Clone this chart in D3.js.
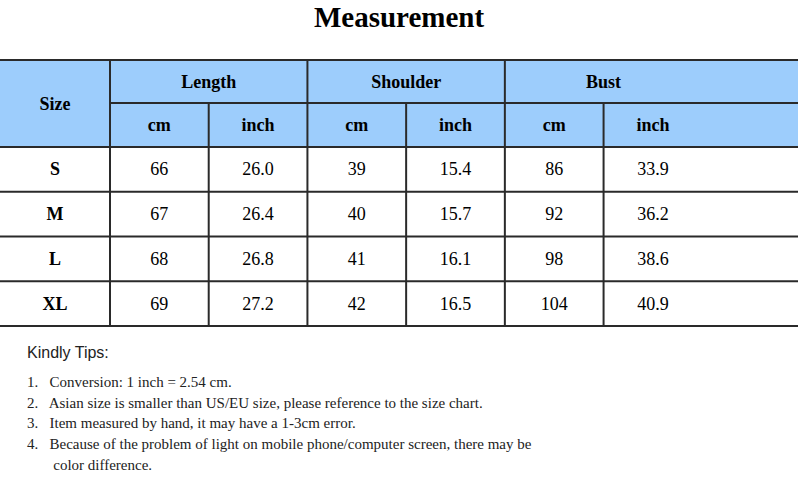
<!DOCTYPE html>
<html lang="en">
<head>
<meta charset="UTF-8">
<title>Measurement</title>
<script src="https://d3js.org/d3.v7.min.js"></script>
<style>
  body { margin: 0; background: #fff; }
</style>
</head>
<body>
<div id="chart"></div>
<script>
  const groups = ["Length", "Shoulder", "Bust"];
  const units = ["cm", "inch"];
  const sizes = ["S", "M", "L", "XL"];
  const lengthCm = [66, 67, 68, 69];
  const lengthIn = ["26.0", "26.4", "26.8", "27.2"];
  const shoulderCm = [39, 40, 41, 42];
  const shoulderIn = ["15.4", "15.7", "16.1", "16.5"];
  const bustCm = [86, 92, 98, 104];
  const bustIn = ["33.9", "36.2", "38.6", "40.9"];
  const tips = [
    "1.   Conversion: 1 inch = 2.54 cm.",
    "2.   Asian size is smaller than US/EU size, please reference to the size chart.",
    "3.   Item measured by hand, it may have a 1-3cm error.",
    "4.   Because of the problem of light on mobile phone/computer screen, there may be",
    "       color difference."
  ];

  const cols = [lengthCm, lengthIn, shoulderCm, shoulderIn, bustCm, bustIn];

  const svg = d3.select("#chart").append("svg")
    .attr("width", 798).attr("height", 479);

  const serif = "'Liberation Serif', 'Times New Roman', serif";

  svg.append("text")
    .attr("x", 399).attr("y", 27)
    .attr("text-anchor", "middle")
    .style("font-family", serif).style("font-weight", "bold").style("font-size", "29px")
    .text("Measurement");

  const x = d3.scaleLinear().domain([0, 7]).range([110, 801]);
  const tableTop = 60, h1 = 43, h2 = 44;
  const y = d3.scaleBand().domain(sizes).range([tableTop + h1 + h2, 326]);

  const g = svg.append("g");

  // header background
  g.append("rect").attr("x", 0).attr("y", tableTop).attr("width", 798).attr("height", h1 + h2)
    .attr("fill", "#9dcdfc");

  const txt = (xx, yy, s, bold) => g.append("text")
    .attr("x", xx).attr("y", yy).attr("text-anchor", "middle").attr("dominant-baseline", "central")
    .style("font-family", serif).style("font-size", "18px")
    .style("font-weight", bold ? "bold" : "normal").text(s);

  txt(55, tableTop + (h1 + h2) / 2, "Size", true);
  groups.forEach((gr, i) => {
    txt((x(2 * i) + x(2 + 2 * i)) / 2, tableTop + h1 / 2, gr, true);
    units.forEach((u, j) => {
      const c = 2 * i + j;
      txt((x(c) + x(c + 1)) / 2, tableTop + h1 + h2 / 2, u, true);
    });
  });

  sizes.forEach((s, r) => {
    const cy = y(s) + y.bandwidth() / 2;
    txt(55, cy, s, true);
    cols.forEach((arr, c) => txt((x(c) + x(c + 1)) / 2, cy, arr[r], false));
  });

  // grid lines
  const stroke = "#2a2a2a";
  const line = (x1, y1, x2, y2) => g.append("line")
    .attr("x1", x1).attr("y1", y1).attr("x2", x2).attr("y2", y2)
    .attr("stroke", stroke).attr("stroke-width", 2);
  line(0, tableTop, 798, tableTop);
  line(110, tableTop + h1, 798, tableTop + h1);
  line(0, tableTop + h1 + h2, 798, tableTop + h1 + h2);
  sizes.forEach(s => line(0, y(s) + y.bandwidth(), 798, y(s) + y.bandwidth()));
  line(110, tableTop, 110, 326);
  for (let c = 1; c <= 5; c++) {
    line(x(c), c % 2 === 1 ? tableTop + h1 : tableTop, x(c), 326);
  }

  // tips
  svg.append("text").attr("x", 27).attr("y", 358)
    .style("font-family", "'Liberation Sans', Arial, sans-serif").style("font-size", "16px")
    .attr("fill", "#222").text("Kindly Tips:");
  svg.selectAll(".tip").data(tips).enter().append("text")
    .attr("class", "tip")
    .attr("x", 27)
    .attr("y", (d, i) => 387 + i * 20.7)
    .style("font-family", serif).style("font-size", "15px").attr("fill", "#222")
    .style("white-space", "pre").attr("xml:space", "preserve")
    .text(d => d);
</script>
</body>
</html>
